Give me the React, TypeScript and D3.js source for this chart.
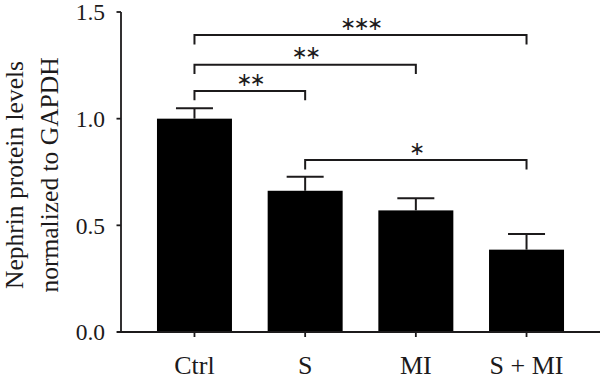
import React from "react";
import * as d3 from "d3";

const categories = ["Ctrl", "S", "MI", "S + MI"];
const means = [1.0, 0.662, 0.57, 0.386];
const errors = [0.049, 0.066, 0.057, 0.073];
const yTicks = [0, 0.5, 1.0, 1.5];
// significance brackets: from category, to category, level (data units), label
const bracketFrom = ["Ctrl", "Ctrl", "Ctrl", "S"];
const bracketTo = ["S + MI", "MI", "S", "S + MI"];
const bracketLevel = [1.392, 1.253, 1.13, 0.806];
const bracketLabel = ["***", "**", "**", "*"];
const yTitleLines = ["Nephrin protein levels", "normalized to GAPDH"];

const W = 600;
const H = 383;
const ink = "#1c1a1b";

export default function App() {
  const x = d3
    .scaleBand<string>()
    .domain(categories)
    .range([121, 600])
    .paddingInner(0.3225)
    .paddingOuter(0.325);
  const y = d3.scaleLinear().domain([0, 1.5]).range([332, 12]);
  const cx = (c: string) => (x(c) as number) + x.bandwidth() / 2;
  const capHalf = 18.5;
  const drop = 0.044;
  const serif = "'Liberation Serif', 'Times New Roman', serif";

  return (
    <svg
      width={W}
      height={H}
      style={{ position: "absolute", left: 0, top: 0, background: "#fff" }}
    >
      {/* bars */}
      {categories.map((c, i) => (
        <rect
          key={c}
          x={x(c)}
          y={y(means[i])}
          width={x.bandwidth()}
          height={y(0) - y(means[i])}
          fill="#000"
        />
      ))}
      {/* error bars */}
      {categories.map((c, i) => (
        <g key={"e" + c} stroke={ink} strokeWidth={2} fill="none">
          <line x1={cx(c)} x2={cx(c)} y1={y(means[i])} y2={y(means[i] + errors[i])} />
          <line
            x1={cx(c) - capHalf}
            x2={cx(c) + capHalf}
            y1={y(means[i] + errors[i])}
            y2={y(means[i] + errors[i])}
          />
        </g>
      ))}
      {/* y axis */}
      <line x1={121} x2={121} y1={y(1.5)} y2={y(0)} stroke={ink} strokeWidth={1.8} />
      {yTicks.map((t) => (
        <g key={"yt" + t}>
          <line x1={116.5} x2={121} y1={y(t)} y2={y(t)} stroke={ink} strokeWidth={1.8} />
          <text
            x={105}
            y={y(t)}
            dy="0.35em"
            textAnchor="end"
            fontFamily={serif}
            fontSize={23.5}
            fill={ink}
          >
            {d3.format(".1f")(t)}
          </text>
        </g>
      ))}
      {/* x axis */}
      <line x1={117} x2={600} y1={y(0)} y2={y(0)} stroke={ink} strokeWidth={1.8} />
      {categories.map((c) => (
        <g key={"xt" + c}>
          <line x1={cx(c)} x2={cx(c)} y1={y(0)} y2={y(0) + 5} stroke={ink} strokeWidth={1.8} />
          <text
            x={cx(c)}
            y={374}
            textAnchor="middle"
            fontFamily={serif}
            fontSize={26}
            fill={ink}
          >
            {c}
          </text>
        </g>
      ))}
      {/* y title */}
      {yTitleLines.map((l, i) => (
        <text
          key={l}
          transform={`translate(${23 + i * 35},${175}) rotate(-90)`}
          textAnchor="middle"
          fontFamily={serif}
          fontSize={25.5}
          fill={ink}
        >
          {l}
        </text>
      ))}
      {/* significance brackets */}
      {bracketLabel.map((lab, i) => {
        const x1 = cx(bracketFrom[i]);
        const x2 = cx(bracketTo[i]);
        const yy = y(bracketLevel[i]);
        const yd = y(bracketLevel[i] - drop);
        return (
          <g key={"b" + i}>
            <path
              d={`M${x1},${yd}V${yy}H${x2}V${yd}`}
              fill="none"
              stroke={ink}
              strokeWidth={2}
            />
            <text
              x={(x1 + x2) / 2}
              y={yy - 12}
              dy="0.35em"
              textAnchor="middle"
              fontFamily="'DejaVu Sans', sans-serif"
              fontSize={19}
              letterSpacing={-2.5}
              fill={ink}
            >
              {lab.replace(/\*/g, "\u2217")}
            </text>
          </g>
        );
      })}
    </svg>
  );
}
